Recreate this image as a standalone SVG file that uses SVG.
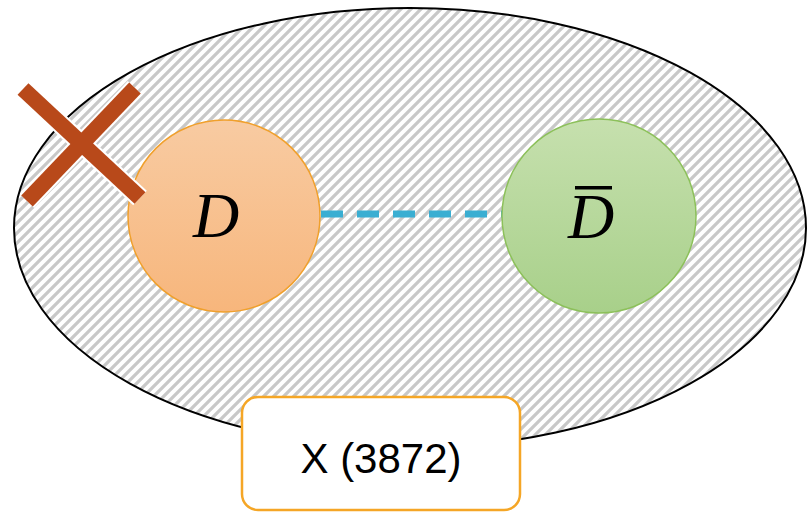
<svg xmlns="http://www.w3.org/2000/svg" width="808" height="519" viewBox="0 0 808 519">
  <defs>
    <pattern id="hatch" patternUnits="userSpaceOnUse" width="10" height="10">
      <rect width="10" height="10" fill="#ffffff"/>
      <path d="M-2,12 L12,-2 M-2,2 L2,-2 M8,12 L12,8" stroke="#c8c8c8" stroke-width="3.2" fill="none"/>
    </pattern>
    <linearGradient id="gOrange" x1="0" y1="0" x2="0" y2="1">
      <stop offset="0" stop-color="#f8cba2"/>
      <stop offset="1" stop-color="#f7b67c"/>
    </linearGradient>
    <linearGradient id="gGreen" x1="0" y1="0" x2="0" y2="1">
      <stop offset="0" stop-color="#c6e0ae"/>
      <stop offset="1" stop-color="#a8d08a"/>
    </linearGradient>
  </defs>
  <style>
    .math { font-family: "Liberation Serif", "DejaVu Serif", serif; font-style: italic; font-size: 64px; fill: #000; }
    .label { font-family: "Liberation Sans", "Open Sans", sans-serif; font-size: 42px; fill: #000; }
  </style>
  <g id="universe">
    <ellipse cx="410" cy="228" rx="396" ry="220" fill="url(#hatch)" stroke="#000" stroke-width="2"/>
  </g>
  <g id="connectors">
    <line x1="321" y1="214" x2="502" y2="214" stroke="#3aaed2" stroke-width="7" stroke-dasharray="22 14"/>
  </g>
  <g id="node-D">
    <circle cx="224" cy="216" r="96" fill="url(#gOrange)" stroke="#f0a02c" stroke-width="1.5"/>
    <text class="math" x="216" y="237" text-anchor="middle">D</text>
  </g>
  <g id="node-Dbar">
    <circle cx="599" cy="216" r="97" fill="url(#gGreen)" stroke="#8cc05a" stroke-width="1.5"/>
    <text class="math" x="591" y="238" text-anchor="middle">D</text>
    <rect x="575" y="186" width="37" height="3.5" fill="#000"/>
  </g>
  <g id="cross">
    <g stroke="#ffffff" stroke-width="20">
      <line x1="23" y1="89" x2="140" y2="198"/>
      <line x1="135" y1="88" x2="27" y2="201"/>
    </g>
    <g stroke="#b8491a" stroke-width="16">
      <line x1="23" y1="89" x2="140" y2="198"/>
      <line x1="135" y1="88" x2="27" y2="201"/>
    </g>
  </g>
  <g id="label-box">
    <rect x="242" y="397" width="278" height="113" rx="16" ry="16" fill="#ffffff" stroke="#f5a626" stroke-width="2.5"/>
    <text class="label" x="381" y="473" text-anchor="middle">X (3872)</text>
  </g>
</svg>
